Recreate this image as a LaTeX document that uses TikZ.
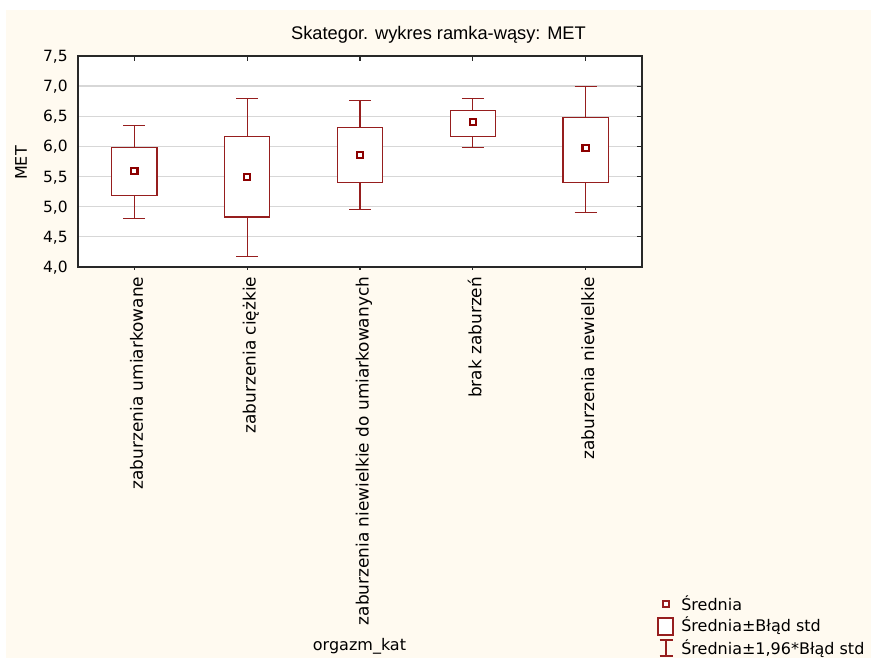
\documentclass[tikz,border=0pt]{standalone}
\usepackage{fontspec}
\setmainfont{DejaVu Sans}
\newfontfamily\titlefont{Liberation Sans}
\usetikzlibrary{calc}
\definecolor{bgcream}{HTML}{FFFAF0}
\definecolor{boxred}{RGB}{150,30,30}
\definecolor{meanred}{RGB}{140,0,0}
\definecolor{gridgrey}{RGB}{215,215,215}
\definecolor{axisgrey}{RGB}{40,40,40}
\tikzset{
  frame/.style    = {draw=axisgrey, line width=0.9pt},
  gridln/.style   = {draw=gridgrey, line width=0.9pt},
  tickmark/.style = {draw=axisgrey, line width=0.8pt},
  sebox/.style    = {draw=boxred, fill=white, line width=0.85pt},
  whisk/.style    = {draw=boxred, line width=0.85pt},
  meanmark/.style = {draw=meanred, fill=white, line width=1.6pt, rectangle,
                     minimum size=4.6pt, inner sep=0pt},
  ticklbl/.style  = {font=\fontsize{11.6}{13}\selectfont, inner sep=0pt, anchor=base east},
  catlbl/.style   = {font=\fontsize{12.7}{15}\selectfont, inner sep=0pt, rotate=90, anchor=base east},
  leglbl/.style   = {font=\fontsize{12}{14}\selectfont, inner sep=0pt, anchor=base west},
}
\begin{document}
\begin{tikzpicture}[x=0.75pt, y=0.75pt]
  \useasboundingbox (0,0) rectangle (871,658);
  \fill[white] (0,0) rectangle (871,658);
  \fill[bgcream] (6,0) rectangle (871,648);
  \node[font=\titlefont\fontsize{13.7}{16}\selectfont, inner sep=0pt, anchor=base] (title)
    at (438.5,618) {Skategor. wykres ramka-wąsy: MET};
  \node[font=\fontsize{12}{14}\selectfont, inner sep=0pt, rotate=90] (ylab) at (21,495) {MET};
  \begin{scope}[shift={(21.6,149.8)}, x=84.6pt, y=45.225pt]
    \fill[white] (0.5,4) rectangle (5.5,7.5);
    \foreach \v in {4.5,5,5.5,6,6.5,7}
      \draw[gridln] (0.5,\v) -- (5.5,\v);
    \foreach \v/\t [count=\k] in {4/{4,0},4.5/{4,5},5/{5,0},5.5/{5,5},6/{6,0},6.5/{6,5},7/{7,0},7.5/{7,5}}
      \node[ticklbl] (ytick\k) at ($(0.5,\v)+(-7.5pt,-4.2pt)$) {\t};
    % ticks
    \foreach \v in {4.5,5,5.5,6,6.5,7}
      \draw[tickmark] (5.5,\v) -- ++(-3.75pt,0);
    \foreach \i in {1,...,5} {
      \draw[tickmark] (\i,7.5) -- ++(0,-3.75pt);
      \draw[tickmark] (\i,4) -- ++(0,-2.6pt);
    }
    \draw[frame] (0.5,4) rectangle (5.5,7.5);
    % mean / box low / box high / whisker low / whisker high
    \foreach \i/\m/\bl/\bh/\wl/\wh/\lab in {
        1/5.59/5.18/5.98/4.81/6.34/{zaburzenia umiarkowane},
        2/5.49/4.83/6.16/4.18/6.80/{zaburzenia ciężkie},
        3/5.86/5.40/6.32/4.95/6.76/{zaburzenia niewielkie do umiarkowanych},
        4/6.40/6.17/6.60/5.98/6.80/{brak zaburzeń},
        5/5.97/5.40/6.48/4.90/7.00/{zaburzenia niewielkie}} {
      \draw[whisk] (\i,\wl) -- (\i,\wh)
        (\i-0.0975,\wh) -- (\i+0.0975,\wh) (\i-0.0975,\wl) -- (\i+0.0975,\wl);
      \draw[sebox] (\i-0.2,\bl) rectangle (\i+0.2,\bh);
      \node[meanmark] (mean\i) at (\i,\m) {};
      \node[catlbl] (cat\i) at ($(\i,4)+(6.4pt,-7.2pt)$) {\lab};
    }
  \end{scope}
  % legend
  \node[meanmark, draw=boxred, line width=0.8pt, minimum size=4.5pt] (legmean) at (666,54) {};
  \node[leglbl] (legmeantxt) at (681,48) {Średnia};
  \draw[sebox] (658,23) rectangle (673,40);
  \node[leglbl] (legboxtxt) at (681,26.3) {Średnia±Błąd std};
  \draw[whisk] (666,2) -- (666,18) (659.5,18) -- (672.5,18) (659.5,2) -- (672.5,2);
  \node[leglbl] (legwhisktxt) at (681,4) {Średnia±1,96*Błąd std};
  \node[font=\fontsize{12}{14}\selectfont, inner sep=0pt, anchor=north] (xlab)
    at (359.5,20) {orgazm\_kat};
\end{tikzpicture}
\end{document}
